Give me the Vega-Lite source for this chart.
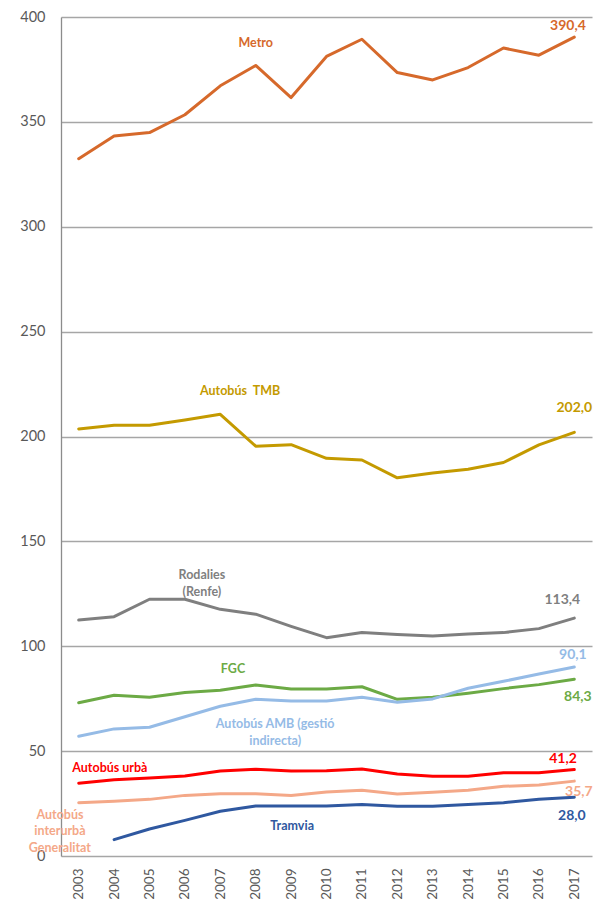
{
  "$schema": "https://vega.github.io/schema/vega-lite/v6.json",
  "autosize": {"type": "none"},
  "padding": {"left": 61, "top": 17, "right": 5, "bottom": 45},
  "width": 531,
  "height": 839,
  "background": "white",
  "config": {
    "view": {"stroke": null},
    "font": "Lato",
    "axis": {"labelFont": "Lato", "labelColor": "#595959"}
  },
  "datasets": {
    "series": [
      {"serie": "Metro", "year": 2003, "value": 332.4},
      {"serie": "Metro", "year": 2004, "value": 343.3},
      {"serie": "Metro", "year": 2005, "value": 344.9},
      {"serie": "Metro", "year": 2006, "value": 353.4},
      {"serie": "Metro", "year": 2007, "value": 367.2},
      {"serie": "Metro", "year": 2008, "value": 376.9},
      {"serie": "Metro", "year": 2009, "value": 361.6},
      {"serie": "Metro", "year": 2010, "value": 381.2},
      {"serie": "Metro", "year": 2011, "value": 389.4},
      {"serie": "Metro", "year": 2012, "value": 373.5},
      {"serie": "Metro", "year": 2013, "value": 370.0},
      {"serie": "Metro", "year": 2014, "value": 375.9},
      {"serie": "Metro", "year": 2015, "value": 385.2},
      {"serie": "Metro", "year": 2016, "value": 381.8},
      {"serie": "Metro", "year": 2017, "value": 390.4},
      {"serie": "Autobús TMB", "year": 2003, "value": 203.6},
      {"serie": "Autobús TMB", "year": 2004, "value": 205.4},
      {"serie": "Autobús TMB", "year": 2005, "value": 205.4},
      {"serie": "Autobús TMB", "year": 2006, "value": 207.9},
      {"serie": "Autobús TMB", "year": 2007, "value": 210.6},
      {"serie": "Autobús TMB", "year": 2008, "value": 195.4},
      {"serie": "Autobús TMB", "year": 2009, "value": 196.1},
      {"serie": "Autobús TMB", "year": 2010, "value": 189.6},
      {"serie": "Autobús TMB", "year": 2011, "value": 188.8},
      {"serie": "Autobús TMB", "year": 2012, "value": 180.3},
      {"serie": "Autobús TMB", "year": 2013, "value": 182.6},
      {"serie": "Autobús TMB", "year": 2014, "value": 184.4},
      {"serie": "Autobús TMB", "year": 2015, "value": 187.6},
      {"serie": "Autobús TMB", "year": 2016, "value": 196.0},
      {"serie": "Autobús TMB", "year": 2017, "value": 202.0},
      {"serie": "Rodalies", "year": 2003, "value": 112.5},
      {"serie": "Rodalies", "year": 2004, "value": 114.1},
      {"serie": "Rodalies", "year": 2005, "value": 122.4},
      {"serie": "Rodalies", "year": 2006, "value": 122.4},
      {"serie": "Rodalies", "year": 2007, "value": 117.6},
      {"serie": "Rodalies", "year": 2008, "value": 115.3},
      {"serie": "Rodalies", "year": 2009, "value": 109.5},
      {"serie": "Rodalies", "year": 2010, "value": 104.1},
      {"serie": "Rodalies", "year": 2011, "value": 106.6},
      {"serie": "Rodalies", "year": 2012, "value": 105.6},
      {"serie": "Rodalies", "year": 2013, "value": 104.9},
      {"serie": "Rodalies", "year": 2014, "value": 105.8},
      {"serie": "Rodalies", "year": 2015, "value": 106.5},
      {"serie": "Rodalies", "year": 2016, "value": 108.4},
      {"serie": "Rodalies", "year": 2017, "value": 113.4},
      {"serie": "FGC", "year": 2003, "value": 73.1},
      {"serie": "FGC", "year": 2004, "value": 76.6},
      {"serie": "FGC", "year": 2005, "value": 75.7},
      {"serie": "FGC", "year": 2006, "value": 78.0},
      {"serie": "FGC", "year": 2007, "value": 79.0},
      {"serie": "FGC", "year": 2008, "value": 81.5},
      {"serie": "FGC", "year": 2009, "value": 79.6},
      {"serie": "FGC", "year": 2010, "value": 79.6},
      {"serie": "FGC", "year": 2011, "value": 80.7},
      {"serie": "FGC", "year": 2012, "value": 74.7},
      {"serie": "FGC", "year": 2013, "value": 75.7},
      {"serie": "FGC", "year": 2014, "value": 77.6},
      {"serie": "FGC", "year": 2015, "value": 79.8},
      {"serie": "FGC", "year": 2016, "value": 81.7},
      {"serie": "FGC", "year": 2017, "value": 84.3},
      {"serie": "Autobús AMB", "year": 2003, "value": 57.1},
      {"serie": "Autobús AMB", "year": 2004, "value": 60.6},
      {"serie": "Autobús AMB", "year": 2005, "value": 61.4},
      {"serie": "Autobús AMB", "year": 2006, "value": 66.4},
      {"serie": "Autobús AMB", "year": 2007, "value": 71.4},
      {"serie": "Autobús AMB", "year": 2008, "value": 74.7},
      {"serie": "Autobús AMB", "year": 2009, "value": 73.9},
      {"serie": "Autobús AMB", "year": 2010, "value": 73.9},
      {"serie": "Autobús AMB", "year": 2011, "value": 75.7},
      {"serie": "Autobús AMB", "year": 2012, "value": 73.3},
      {"serie": "Autobús AMB", "year": 2013, "value": 74.9},
      {"serie": "Autobús AMB", "year": 2014, "value": 80.0},
      {"serie": "Autobús AMB", "year": 2015, "value": 83.3},
      {"serie": "Autobús AMB", "year": 2016, "value": 86.8},
      {"serie": "Autobús AMB", "year": 2017, "value": 90.1},
      {"serie": "Autobús urbà", "year": 2003, "value": 34.7},
      {"serie": "Autobús urbà", "year": 2004, "value": 36.4},
      {"serie": "Autobús urbà", "year": 2005, "value": 37.2},
      {"serie": "Autobús urbà", "year": 2006, "value": 38.1},
      {"serie": "Autobús urbà", "year": 2007, "value": 40.5},
      {"serie": "Autobús urbà", "year": 2008, "value": 41.3},
      {"serie": "Autobús urbà", "year": 2009, "value": 40.5},
      {"serie": "Autobús urbà", "year": 2010, "value": 40.7},
      {"serie": "Autobús urbà", "year": 2011, "value": 41.5},
      {"serie": "Autobús urbà", "year": 2012, "value": 39.1},
      {"serie": "Autobús urbà", "year": 2013, "value": 38.0},
      {"serie": "Autobús urbà", "year": 2014, "value": 38.0},
      {"serie": "Autobús urbà", "year": 2015, "value": 39.7},
      {"serie": "Autobús urbà", "year": 2016, "value": 39.7},
      {"serie": "Autobús urbà", "year": 2017, "value": 41.2},
      {"serie": "Autobús interurbà", "year": 2003, "value": 25.4},
      {"serie": "Autobús interurbà", "year": 2004, "value": 26.1},
      {"serie": "Autobús interurbà", "year": 2005, "value": 27.0},
      {"serie": "Autobús interurbà", "year": 2006, "value": 28.9},
      {"serie": "Autobús interurbà", "year": 2007, "value": 29.7},
      {"serie": "Autobús interurbà", "year": 2008, "value": 29.7},
      {"serie": "Autobús interurbà", "year": 2009, "value": 28.9},
      {"serie": "Autobús interurbà", "year": 2010, "value": 30.5},
      {"serie": "Autobús interurbà", "year": 2011, "value": 31.3},
      {"serie": "Autobús interurbà", "year": 2012, "value": 29.6},
      {"serie": "Autobús interurbà", "year": 2013, "value": 30.4},
      {"serie": "Autobús interurbà", "year": 2014, "value": 31.3},
      {"serie": "Autobús interurbà", "year": 2015, "value": 33.2},
      {"serie": "Autobús interurbà", "year": 2016, "value": 33.9},
      {"serie": "Autobús interurbà", "year": 2017, "value": 35.7},
      {"serie": "Tramvia", "year": 2004, "value": 7.8},
      {"serie": "Tramvia", "year": 2005, "value": 12.9},
      {"serie": "Tramvia", "year": 2006, "value": 17.0},
      {"serie": "Tramvia", "year": 2007, "value": 21.3},
      {"serie": "Tramvia", "year": 2008, "value": 23.8},
      {"serie": "Tramvia", "year": 2009, "value": 23.8},
      {"serie": "Tramvia", "year": 2010, "value": 23.8},
      {"serie": "Tramvia", "year": 2011, "value": 24.6},
      {"serie": "Tramvia", "year": 2012, "value": 23.7},
      {"serie": "Tramvia", "year": 2013, "value": 23.7},
      {"serie": "Tramvia", "year": 2014, "value": 24.6},
      {"serie": "Tramvia", "year": 2015, "value": 25.4},
      {"serie": "Tramvia", "year": 2016, "value": 27.0},
      {"serie": "Tramvia", "year": 2017, "value": 28.0}
    ],
    "labels": [
      {"serie": "Metro", "kind": "name", "year": 2008.0, "value": 387.8, "label": "Metro"},
      {"serie": "Autobús TMB", "kind": "name", "year": 2007.56, "value": 221.7, "label": "Autobús\u00a0\u00a0TMB"},
      {"serie": "Rodalies", "kind": "name", "year": 2006.48, "value": 133.8, "label": "Rodalies\n(Renfe)"},
      {"serie": "FGC", "kind": "name", "year": 2007.36, "value": 89.2, "label": "FGC"},
      {"serie": "Autobús AMB", "kind": "name", "year": 2008.55, "value": 62.8, "label": "Autobús AMB (gestió\nindirecta)"},
      {"serie": "Autobús urbà", "kind": "name", "year": 2003.88, "value": 42.1, "label": "Autobús urbà"},
      {"serie": "Autobús interurbà", "kind": "name", "year": 2002.47, "value": 19.6, "label": "Autobús\ninterurbà\nGeneralitat"},
      {"serie": "Tramvia", "kind": "name", "year": 2009.03, "value": 14.2, "label": "Tramvia"},
      {"serie": "Metro", "kind": "value", "year": 2016.82, "value": 395.5, "label": "390,4"},
      {"serie": "Autobús TMB", "kind": "value", "year": 2017.0, "value": 213.8, "label": "202,0"},
      {"serie": "Rodalies", "kind": "value", "year": 2016.66, "value": 122.1, "label": "113,4"},
      {"serie": "Autobús AMB", "kind": "value", "year": 2016.96, "value": 95.8, "label": "90,1"},
      {"serie": "FGC", "kind": "value", "year": 2017.1, "value": 75.7, "label": "84,3"},
      {"serie": "Autobús urbà", "kind": "value", "year": 2016.68, "value": 46.3, "label": "41,2"},
      {"serie": "Autobús interurbà", "kind": "value", "year": 2017.13, "value": 30.7, "label": "35,7"},
      {"serie": "Tramvia", "kind": "value", "year": 2016.93, "value": 19.2, "label": "28,0"}
    ]
  },
  "encoding": {
    "x": {
      "field": "year", "type": "quantitative",
      "scale": {"domain": [2002.5, 2017.5], "nice": false, "zero": false},
      "axis": {
        "title": null, "values": [2003, 2004, 2005, 2006, 2007, 2008, 2009, 2010, 2011, 2012, 2013, 2014, 2015, 2016, 2017],
        "format": "d", "labelAngle": -90, "labelAlign": "right", "labelBaseline": "middle",
        "labelPadding": 12, "labelFontSize": 13.5, "grid": false, "domain": false, "ticks": false,
        "labelFlush": false, "labelOverlap": false
      }
    },
    "y": {
      "field": "value", "type": "quantitative",
      "scale": {"domain": [0, 400], "nice": false},
      "axis": {
        "title": null, "values": [0, 50, 100, 150, 200, 250, 300, 350, 400],
        "labelFontSize": 14.5, "labelPadding": 16, "ticks": false,
        "domain": true, "domainColor": "#8C8C8C", "domainWidth": 1.3,
        "grid": true, "gridColor": "#A6A6A6", "gridWidth": 1.3
      }
    },
    "color": {
      "field": "serie", "type": "nominal", "legend": null,
      "scale": {
        "domain": ["Metro", "Autobús TMB", "Rodalies", "FGC", "Autobús AMB", "Autobús urbà", "Autobús interurbà", "Tramvia"],
        "range": ["#D6692B", "#C49A00", "#7F7F7F", "#6CAA45", "#95BBE6", "#FF0000", "#F4A888", "#2F58A0"]
      }
    }
  },
  "layer": [
    {
      "data": {"name": "series"},
      "mark": {"type": "line", "strokeWidth": 3, "strokeCap": "round", "strokeJoin": "round"},
      "encoding": {"detail": {"field": "serie"}}
    },
    {
      "data": {"name": "labels"},
      "transform": [{"filter": "datum.kind === 'name'"}],
      "mark": {"type": "text", "fontWeight": "bold", "fontSize": 12.5, "lineBreak": "\n", "lineHeight": 16.5, "align": "center", "baseline": "middle"},
      "encoding": {"text": {"field": "label"}}
    },
    {
      "data": {"name": "labels"},
      "transform": [{"filter": "datum.kind === 'value'"}],
      "mark": {"type": "text", "fontWeight": "bold", "fontSize": 14, "align": "center", "baseline": "middle"},
      "encoding": {"text": {"field": "label"}}
    }
  ]
}
